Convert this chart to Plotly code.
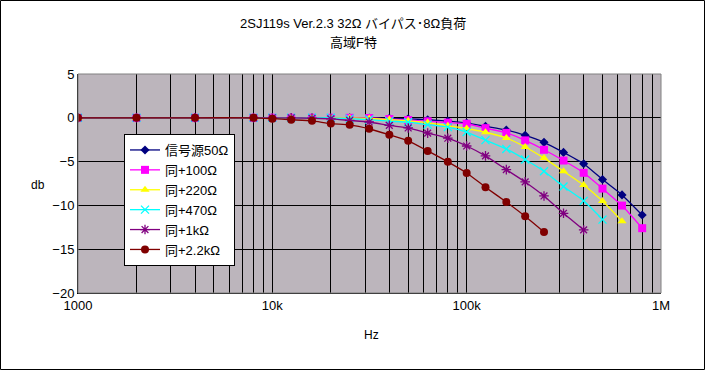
import plotly.graph_objects as go

freq = [1000, 2000, 4000, 8000, 10000, 12500, 16000, 20000, 25000, 31500, 40000, 50000,
        63000, 80000, 100000, 125000, 160000, 200000, 250000, 315000, 400000, 500000,
        630000, 800000]
s50 = [0, 0, 0, 0, 0, 0, 0, 0, 0, -0.03, -0.07, -0.12, -0.22, -0.38, -0.6, -0.98, -1.4,
       -2.0, -2.8, -3.95, -5.25, -7.05, -8.8, -11.1]
s100 = [0, 0, 0, 0, 0, 0, 0, 0, 0, -0.02, -0.14, -0.25, -0.4, -0.55, -0.68, -1.18, -1.72,
        -2.58, -3.65, -4.88, -6.28, -8.08, -10.02, -12.6]
s220 = [0, 0, 0, 0, 0, 0, 0, 0, -0.02, -0.08, -0.2, -0.35, -0.55, -0.9, -1.22, -1.65, -2.3,
        -3.33, -4.6, -6.1, -7.68, -9.5, -11.8]
s470 = [0, 0, 0, 0, 0, 0, 0, 0, -0.1, -0.2, -0.38, -0.5, -0.78, -1.06, -1.63, -2.55, -3.56,
        -4.76, -6.1, -7.85, -9.48, -11.62]
s1k = [0, 0, 0, 0, 0, 0, -0.05, -0.12, -0.3, -0.48, -0.87, -1.16, -1.75, -2.33, -3.22, -4.35,
       -5.92, -7.32, -8.92, -10.9, -12.8]
s2k2 = [0, 0, 0, 0, -0.1, -0.22, -0.35, -0.66, -0.8, -1.25, -1.94, -2.63, -3.78, -5.03, -6.3,
        -7.92, -9.62, -11.25, -13.05]

names = ["信号源50Ω", "同+100Ω", "同+220Ω", "同+470Ω", "同+1kΩ", "同+2.2kΩ"]
series = [s50, s100, s220, s470, s1k, s2k2]
colors = ["#000080", "#FF00FF", "#FFFF00", "#00FFFF", "#800080", "#800000"]
symbols = ["diamond", "square", "triangle-up", "x-thin", "asterisk", "circle"]
msizes = [7, 8, 8, 8, 8, 8]

x_major = [1000, 10000, 100000, 1000000]
x_major_text = ["1000", "10k", "100k", "1M"]
x_minor = [m * d for d in (1000, 10000, 100000) for m in range(2, 10)]
y_ticks = [5, 0, -5, -10, -15, -20]

FONT = "Liberation Sans, Arial, Noto Sans CJK JP, sans-serif"

fig = go.Figure()
for nm, ys, c, sym, ms in zip(names, series, colors, symbols, msizes):
    open_sym = sym in ("x-thin", "asterisk")
    fig.add_trace(go.Scatter(
        x=freq[:len(ys)], y=ys, name=nm, mode="lines+markers",
        line=dict(color=c, width=1.3, shape="spline", smoothing=0.5),
        marker=dict(symbol=sym + ("-open" if sym == "asterisk" else ""), size=ms, color=c,
                    line=dict(color=c, width=1.3 if open_sym else 0)),
    ))

L, R, T, B = 78, 44, 74, 77
PW, PH = 705 - L - R, 370 - T - B

def px(x):
    return (x - L) / PW

def py(y):
    return (370 - B - y) / PH

def ann(text, x, y, size):
    return dict(text=text, x=px(x), y=py(y), xref="paper", yref="paper",
                xanchor="center", yanchor="middle", showarrow=False,
                font=dict(size=size))

fig.update_layout(
    width=705, height=370,
    margin=dict(l=L, r=R, t=T, b=B),
    paper_bgcolor="white",
    plot_bgcolor="#bcb5bc",
    font=dict(family=FONT, size=12, color="black"),
    showlegend=True,
    legend=dict(x=px(124), y=py(134), xanchor="left", yanchor="top",
                bgcolor="white", bordercolor="black", borderwidth=1,
                font=dict(family=FONT, size=13), tracegroupgap=0, itemwidth=30),
    xaxis=dict(type="log", range=[3, 6], tickvals=x_major, ticktext=x_major_text,
               showgrid=True, gridcolor="black", gridwidth=1,
               minor=dict(tickvals=x_minor, showgrid=True, gridcolor="black", gridwidth=1,
                          ticks=""),
               showline=True, linecolor="black", linewidth=1, ticks="",
               zeroline=False, ticklen=0, tickfont=dict(size=13)),
    yaxis=dict(range=[-20, 5], tickvals=y_ticks, showgrid=True, gridcolor="black",
               gridwidth=1, zeroline=False, showline=True, linecolor="black",
               linewidth=1, ticks="", tickfont=dict(size=13)),
    annotations=[
        ann("2SJ119s Ver.2.3 32Ω バイパス･8Ω負荷", 353, 24, 13),
        ann("高域F特", 353, 42, 13),
        ann("db", 38, 185, 12),
        ann("Hz", 371, 335, 12),
    ],
    shapes=[
        dict(type="rect", xref="paper", yref="paper", x0=0, x1=1, y0=0, y1=1,
             line=dict(color="#808080", width=1), layer="above"),
        dict(type="rect", xref="paper", yref="paper", x0=px(0.5), x1=px(704.5),
             y0=py(369.5), y1=py(0.5), line=dict(color="black", width=1)),
    ],
)

fig.write_html("out.html", config={"displayModeBar": False},
               post_script="document.body.style.margin='0px';document.body.style.overflow='hidden';")
